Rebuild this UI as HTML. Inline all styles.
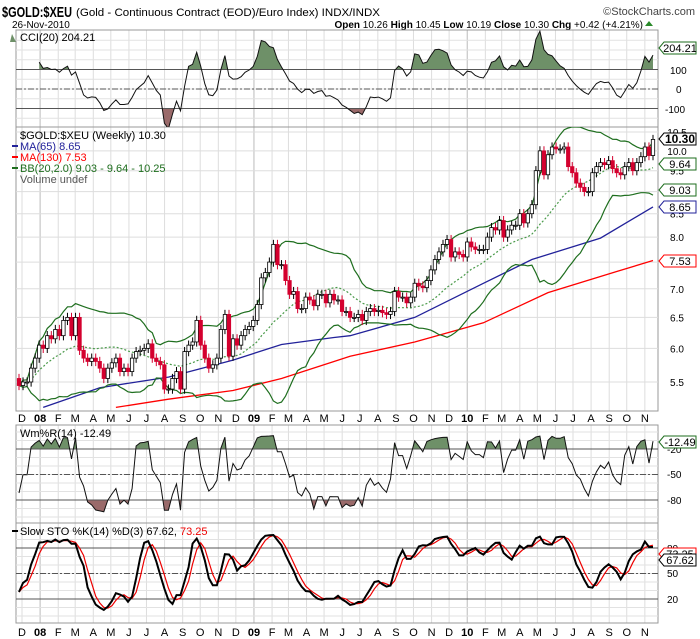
<!DOCTYPE html>
<html><head><meta charset="utf-8"><style>
body{margin:0;background:#fff}
svg{display:block;font-family:"Liberation Sans",sans-serif}
</style></head><body>
<svg id="c" width="700" height="639" viewBox="0 0 700 639">
<text x="2" y="17" font-size="15" font-weight="bold" textLength="70" lengthAdjust="spacingAndGlyphs">$GOLD:$XEU</text>
<text x="76" y="16" font-size="11" textLength="304" lengthAdjust="spacingAndGlyphs">(Gold - Continuous Contract (EOD)/Euro Index) INDX/INDX</text>
<text x="695" y="15" font-size="11" text-anchor="end" fill="#444">©StockCharts.com</text>
<text x="12" y="28" font-size="10">26-Nov-2010</text>
<text x="643" y="28" font-size="10" text-anchor="end"><tspan font-weight="bold">Open</tspan> 10.26 <tspan font-weight="bold">High</tspan> 10.45 <tspan font-weight="bold">Low</tspan> 10.19 <tspan font-weight="bold">Close</tspan> 10.30 <tspan font-weight="bold">Chg</tspan> +0.42 (+4.21%)</text>
<polygon points="645,26 653,26 649,21" fill="#2a8a2a"/>
</svg>
<script>
// weekly closes, late Nov 2007 .. 26-Nov-2010
const closes=[5.45,5.5,5.5,5.7,5.85,6.05,6.0,6.2,6.15,6.3,6.2,6.45,6.5,6.2,6.5,5.97,5.85,5.8,5.85,5.8,5.7,5.55,5.7,5.78,5.85,5.65,5.7,5.65,5.85,5.95,5.97,6.0,6.07,5.85,5.8,5.75,5.4,5.4,5.55,5.65,5.4,5.95,
6.05,6.1,6.45,6.05,5.85,5.7,5.75,5.85,6.3,6.55,5.88,6.15,6.05,6.2,6.3,6.35,6.45,6.72,7.2,7.3,7.5,7.85,7.45,7.45,7.15,6.9,6.95,6.65,6.65,6.85,6.8,6.7,6.9,6.9,6.75,6.9,6.8,6.8,6.6,6.6,6.5,6.5,6.55,6.45,6.6,6.65,6.6,6.62,6.58,6.55,6.6,6.95,6.85,6.85,6.75,6.85,7.1,7.05,7.02,7.15,7.35,7.55,7.7,7.85,7.95,7.6,7.7,7.65,7.6,7.9,7.8,7.75,7.75,7.75,8.0,8.2,8.15,8.35,8.0,8.15,8.25,8.25,8.5,8.3,8.5,8.7,9.5,10.0,9.4,9.9,10.1,10.05,10.05,10.1,9.6,9.45,9.2,9.1,9.0,9.0,9.45,9.6,9.7,9.65,9.75,9.55,9.45,9.4,9.6,9.7,9.5,9.7,9.85,10.1,9.88,10.3];
const firstOpen=5.55;
// moving averages: [week index, value]
const ma65Pts=[[6,5.15],[20,5.42],[37,5.57],[53,5.82],[65,6.06],[78,6.17],[82,6.2],[98,6.5],[115,7.1],[127,7.55],[144,7.98],[157,8.65]];
const ma130Pts=[[24,5.15],[37,5.26],[53,5.38],[65,5.55],[78,5.8],[82,5.88],[98,6.1],[115,6.41],[131,6.93],[148,7.32],[157,7.53]];
const priceTicks=[5.5,6.0,6.5,7.0,7.5,8.0,8.5,9.0,9.5,10.0,10.5];
const monthLetters=['J','F','M','A','M','J','J','A','S','O','N','D'];

const svg=document.getElementById('c');const NS='http://www.w3.org/2000/svg';
function el(t,a,p){const e=document.createElementNS(NS,t);for(const k in a)e.setAttribute(k,a[k]);(p||svg).appendChild(e);return e;}
const N=closes.length,X0=19,X1=653,L=16,R=658;
const sp=(X1-X0)/(N-1);
const xs=i=>X0+i*sp;
const dateRef=new Date(2007,11,1).getTime();
const xd=d=>22+(d.getTime()-dateRef)/(7*864e5)*4.09;
const yP=p=>132+386.6*Math.log(10.5/p);
const P={cci:[30,127],price:[127,411],wr:[425,523],sto:[523,623]};
const yC=v=>89-v*0.195, yW=v=>432-v*0.85, yS=v=>531+(100-v)*0.85;

for(const k in P){const cp=el('clipPath',{id:k+'-pclip'});el('rect',{x:L,y:P[k][0],width:R-L,height:P[k][1]-P[k][0]},cp);}

const opens=closes.map((c,i)=>i?closes[i-1]:firstOpen);
const highs=closes.map((c,i)=>Math.max(c,opens[i])*1.012);
const lows=closes.map((c,i)=>Math.min(c,opens[i])*0.988);

for(const k in P){const [t,b]=P[k];
 const g=el('g',{});
 for(let y=2007,m=11;y<2011;){const d=new Date(y,m,1);const x=xd(d);if(x>L&&x<R){const ln=el('line',{x1:x,x2:x,y1:t,y2:b,stroke:m==0?'#bbb':'#ddd','stroke-width':1},g);}m++;if(m>11){m=0;y++;}}
 el('rect',{x:L,y:t,width:R-L,height:b-t,fill:'none',stroke:'#999'},g);
}
function hline(y,dash,name,col){const l=el('line',{x1:L,x2:R,y1:y,y2:y,stroke:col||'#555','stroke-width':1,'stroke-dasharray':dash||''});}
function lbl(x,y,t,name,col,anc){const e=el('text',{x:x,y:y,'font-size':10,fill:col||'#000','text-anchor':anc||'start'});e.textContent=t;return e;}
for(let v=-150;v<=250;v+=50){if(yC(v)>31&&yC(v)<126)hline(yC(v),'','cci-gridline','#e2e2e2');}
for(let v=-100;v<=0;v+=10)hline(yW(v),'','wr-gridline','#e2e2e2');
for(let v=0;v<=100;v+=10)hline(yS(v),'','sto-gridline','#e2e2e2');
priceTicks.forEach(p=>{hline(yP(p),'','price-gridline','#ddd');lbl(677,yP(p)+4,p.toFixed(1),'price-tick-label','#000','middle');});

const tp=closes.map((c,i)=>(c+highs[i]+lows[i])/3);
const cci=tp.map((v,i)=>{if(i<5)return null;const w=tp.slice(Math.max(0,i-19),i+1);const m=w.reduce((a,b)=>a+b)/w.length;const md=w.reduce((a,b)=>a+Math.abs(b-m),0)/w.length;return (v-m)/(0.015*md);});
const wr=closes.map((c,i)=>{const a=Math.max(0,i-13);const hh=Math.max(...highs.slice(a,i+1)),ll=Math.min(...lows.slice(a,i+1));return (hh-c)/(hh-ll)*-100;});
const fk=closes.map((c,i)=>{const a=Math.max(0,i-13);const hh=Math.max(...highs.slice(a,i+1)),ll=Math.min(...lows.slice(a,i+1));return (c-ll)/(hh-ll)*100;});
const sma=(arr,n)=>arr.map((v,i)=>{const w=arr.slice(Math.max(0,i-n+1),i+1).filter(x=>x!=null);return w.reduce((a,b)=>a+b,0)/w.length;});
const sk=sma(fk,3),sd=sma(sk,3);
const bbM=sma(closes,20);
const bbS=closes.map((c,i)=>{const w=closes.slice(Math.max(0,i-19),i+1);const m=bbM[i];return Math.sqrt(w.reduce((a,b)=>a+(b-m)*(b-m),0)/w.length);});

function pathOf(vals,yf){let d='';vals.forEach((v,i)=>{if(v==null)return;d+=(d?'L':'M')+xs(i).toFixed(1)+','+yf(v).toFixed(1);});return d;}
function fillBand(vals,yf,lim,above,col,name,t,b){
 const cp=el('clipPath',{id:name+'-clip'});el('rect',{x:L,y:above?t:yf(lim),width:R-L,height:above?yf(lim)-t:b-yf(lim)},cp);
 let d='';let first=null;vals.forEach((v,i)=>{if(v==null)return;if(first==null)first=i;d+=(d?'L':'M')+xs(i).toFixed(1)+','+yf(v).toFixed(1);});
 d+='L'+xs(vals.length-1)+','+yf(lim)+'L'+xs(first)+','+yf(lim)+'Z';
 const p=el('path',{d:d,fill:col,'clip-path':'url(#'+name+'-clip)'});
}
fillBand(cci,yC,100,true,'#6e9068','cci-overbought-fill',30,127);
fillBand(cci,yC,-100,false,'#9a6a6a','cci-oversold-fill',30,127);
hline(yC(100),'','cci-100-line');hline(yC(-100),'','cci-minus100-line');hline(yC(0),'6,2,2,2','cci-zero-line');
let p=el('path',{d:pathOf(cci,yC),fill:'none',stroke:'#111','stroke-width':1,'clip-path':'url(#cci-pclip)'});
lbl(670,74,'100','cci-tick');lbl(676,93,'0','cci-tick');lbl(665,113,'-100','cci-tick');
fillBand(wr,yW,-20,true,'#6e9068','wr-overbought-fill',425,523);
fillBand(wr,yW,-80,false,'#9a6a6a','wr-oversold-fill',425,523);
hline(yW(-20),'','wr-minus20-line');hline(yW(-80),'','wr-minus80-line');hline(yW(-50),'6,2,2,2','wr-minus50-line');
p=el('path',{d:pathOf(wr,yW),fill:'none',stroke:'#111','stroke-width':1,'clip-path':'url(#wr-pclip)'});
lbl(667,453,'-20','wr-tick');lbl(667,478,'-50','wr-tick');lbl(667,504,'-80','wr-tick');
hline(yS(80),'','sto-80-line');hline(yS(20),'','sto-20-line');hline(yS(50),'6,2,2,2','sto-50-line');
p=el('path',{d:pathOf(sd,yS),fill:'none',stroke:'#e00','stroke-width':1.2});
p=el('path',{d:pathOf(sk,yS),fill:'none',stroke:'#000','stroke-width':2});
lbl(667,577,'50','sto-tick');lbl(667,603,'20','sto-tick');lbl(667,552,'80','sto-tick');

const pg=el('g',{'clip-path':'url(#price-pclip)'});
function lineFromPts(pts,col,name,dash){const d=pts.map((q,i)=>(i?'L':'M')+xs(q[0]).toFixed(1)+','+yP(q[1]).toFixed(1)).join('');const e=el('path',{d:d,fill:'none',stroke:col,'stroke-width':1.3,'stroke-dasharray':dash||''},pg);}
lineFromPts(ma130Pts,'#f00','ma130-line');
lineFromPts(ma65Pts,'#22229a','ma65-line');
[[bbM.map((m,i)=>m+2*bbS[i]),'bb-upper-line',''],[bbM.map((m,i)=>m-2*bbS[i]),'bb-lower-line',''],[bbM,'bb-middle-line','2,2']].forEach(a=>{const e=el('path',{d:pathOf(a[0],yP),fill:'none',stroke:a[2]?'#4a9a4a':'#1e6e1e','stroke-width':1.2,'stroke-dasharray':a[2]},pg);});
closes.forEach((c,i)=>{
 const o=opens[i],x=xs(i),up=c>=o,col=up?'#000':'#d4002e';
 const g=el('g',{},pg);
 el('line',{x1:x,x2:x,y1:yP(highs[i]),y2:yP(lows[i]),stroke:col,'stroke-width':1},g);
 const t=yP(Math.max(o,c)),b=yP(Math.min(o,c));
 el('rect',{x:x-1.7,y:t,width:3.4,height:Math.max(1,b-t),fill:up?'#fff':col,stroke:col,'stroke-width':0.8},g);
});

function leg(y,t,col,name,mark){const e=lbl(20,y,t,name,col);e.setAttribute('font-size','11');if(mark)el('rect',{x:12,y:y-5,width:6,height:2,fill:mark});}
leg(41,'CCI(20) 204.21','#000','cci-legend');el('path',{d:'M10,42 L12,34 L14,38 L16,42Z',fill:'#6e9068'});
leg(139,'$GOLD:$XEU (Weekly) 10.30','#000','price-legend');
leg(150,'MA(65) 8.65','#22229a','ma65-legend','#22229a');
leg(161,'MA(130) 7.53','#f00','ma130-legend','#f00');
leg(172,'BB(20,2.0) 9.03 - 9.64 - 10.25','#1e6e1e','bb-legend','#1e6e1e');
leg(183,'Volume undef','#555','volume-legend');
leg(437,'Wm%R(14) -12.49','#000','wr-legend');
const sl=lbl(20,535,'Slow STO %K(14) %D(3) 67.62, ','sto-legend');sl.setAttribute('font-size','11');
const t2=el('tspan',{fill:'#e00'},sl);t2.textContent='73.25';
el('rect',{x:12,y:530,width:6,height:2,fill:'#000'});

function tag(y,t,col,name,bold){const g=el('g',{});
 el('path',{d:`M659,${y} L664,${y-6} L696,${y-6} L696,${y+6} L664,${y+6} Z`,fill:'#fff',stroke:col,'stroke-width':1},g);
 const e=el('text',{x:680,y:y+4,'font-size':bold?12:11,'font-weight':bold?'bold':'normal','text-anchor':'middle',fill:'#000'},g);e.textContent=t;}
tag(48,'204.21','#1e6e1e','cci-value-tag');
tag(139,'10.30','#000','price-value-tag',true);
tag(164,'9.64','#1e6e1e','bb-mid-tag');
tag(190,'9.03','#1e6e1e','bb-lower-tag');
tag(207,'8.65','#22229a','ma65-tag');
tag(261,'7.53','#f00','ma130-tag');
tag(442,'-12.49','#1e6e1e','wr-value-tag');
tag(554,'73.25','#f00','sto-d-tag');
tag(560,'67.62','#000','sto-k-tag');

[[411,425],[623,639]].forEach(([t,b],k)=>{
 for(let y=2007,m=11;y<2011;){const d=new Date(y,m,1);const x=xd(d);if(x>L&&x<R-8){const s=m==0?String(y).slice(2):monthLetters[m];const e=lbl(x,b-3,s,'month-label','#000','middle');e.setAttribute('font-size','11');if(m==0)e.setAttribute('font-weight','bold');}m++;if(m>11){m=0;y++;}}
});
</script>
</body></html>
